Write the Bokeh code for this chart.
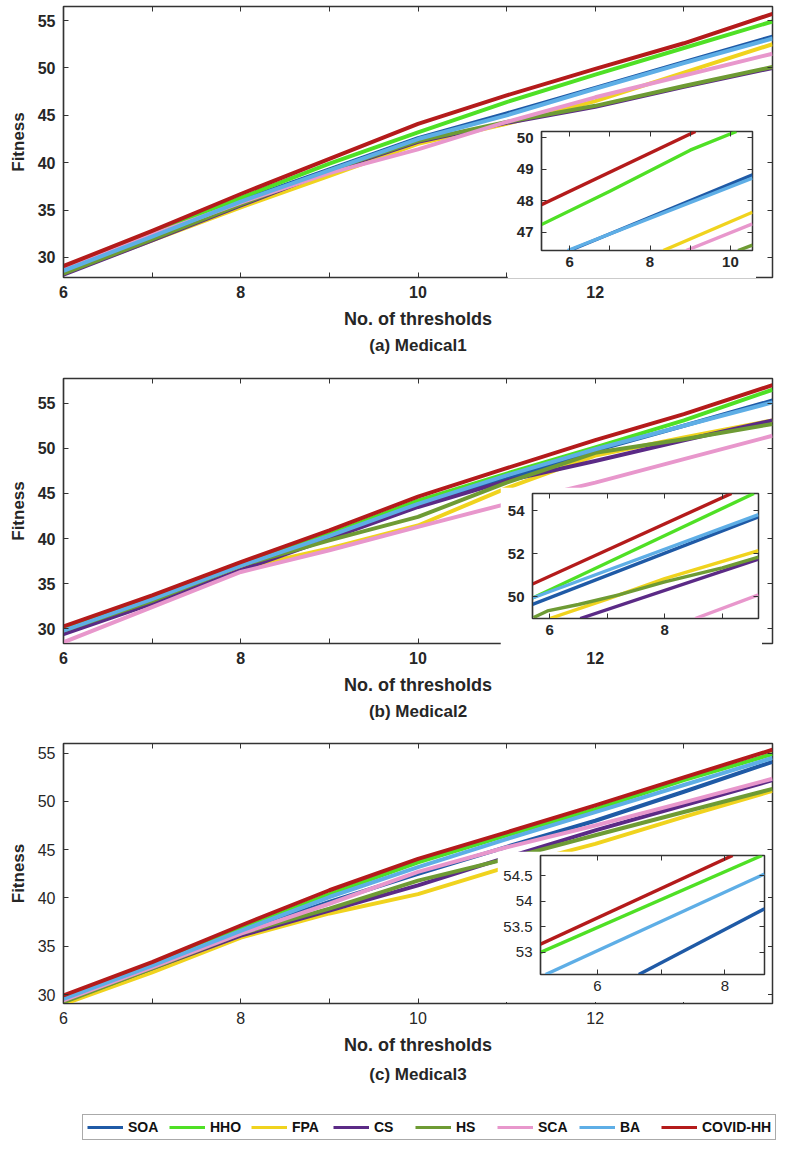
from bokeh.plotting import figure
from bokeh.models import (Range1d, LinearAxis, FixedTicker, Legend, LegendItem, Title, GridBox)
from bokeh.layouts import column
from bokeh.embed import file_html
from bokeh.resources import INLINE

# ---------------- data ----------------
NAMES = ["SOA", "HHO", "FPA", "CS", "HS", "SCA", "BA", "COVID-HH"]
COLORS = ["#1f5aa6", "#4fe025", "#f0d31e", "#5b2a86", "#6e9b34", "#e897cc", "#5eaee6", "#b41b1b"]
X = [6, 7, 8, 9, 10, 11, 12, 13, 14]
X_MAJOR = [6, 8, 10, 12]
X_MINOR = [7, 9, 11, 13]
Y_TICKS = [30, 35, 40, 45, 50, 55]

# (a) Medical1
M1 = {
    "SOA":      [28.5, 32.3, 36.0, 39.3, 42.6, 45.2, 47.9, 50.6, 53.3],
    "HHO":      [28.9, 32.6, 36.3, 39.9, 43.2, 46.4, 49.3, 52.1, 54.9],
    "FPA":      [28.3, 31.8, 35.3, 38.6, 42.0, 44.1, 46.5, 49.5, 52.5],
    "CS":       [28.2, 31.8, 35.5, 39.1, 42.2, 44.2, 45.9, 48.0, 50.0],
    "HS":       [28.3, 31.9, 35.6, 39.2, 42.3, 44.3, 46.0, 48.1, 50.1],
    "SCA":      [28.7, 32.4, 35.8, 38.9, 41.4, 44.3, 46.9, 49.2, 51.5],
    "BA":       [28.6, 32.2, 35.9, 39.2, 42.5, 45.0, 47.8, 50.5, 53.1],
    "COVID-HH": [29.1, 32.8, 36.7, 40.4, 44.1, 47.1, 49.9, 52.6, 55.7],
}
# (b) Medical2
M2 = {
    "SOA":      [29.5, 33.1, 36.8, 40.2, 43.7, 46.6, 49.75, 52.5, 55.3],
    "HHO":      [30.0, 33.5, 37.1, 40.5, 44.2, 47.2, 50.1, 53.1, 56.5],
    "FPA":      [29.8, 33.1, 36.7, 38.9, 41.45, 45.6, 49.2, 51.2, 53.1],
    "CS":       [29.4, 32.8, 36.5, 40.0, 43.5, 46.4, 48.6, 50.9, 53.1],
    "HS":       [29.8, 33.1, 37.0, 39.8, 42.4, 46.2, 49.5, 51.0, 52.7],
    "SCA":      [28.5, 32.4, 36.3, 38.7, 41.3, 43.85, 46.2, 48.8, 51.4],
    "BA":       [29.8, 33.3, 37.0, 40.3, 43.85, 47.0, 49.9, 52.5, 55.1],
    "COVID-HH": [30.26, 33.7, 37.4, 40.9, 44.65, 47.8, 50.9, 53.8, 57.0],
}
# (c) Medical3
M3 = {
    "SOA":      [29.45, 32.8, 36.5, 39.6, 42.5, 45.3, 48.0, 51.0, 54.1],
    "HHO":      [29.7, 33.2, 36.8, 40.4, 43.7, 46.5, 49.2, 52.2, 54.9],
    "FPA":      [29.0, 32.3, 35.9, 38.4, 40.4, 43.2, 45.6, 48.4, 51.1],
    "CS":       [29.3, 32.7, 36.1, 38.7, 41.3, 44.2, 47.0, 49.6, 52.2],
    "HS":       [29.2, 32.7, 36.3, 38.9, 41.8, 44.05, 46.5, 48.9, 51.3],
    "SCA":      [29.4, 32.8, 36.3, 39.4, 42.7, 45.25, 47.5, 49.9, 52.35],
    "BA":       [29.55, 33.0, 36.6, 40.1, 43.2, 46.1, 48.9, 51.7, 54.5],
    "COVID-HH": [29.9, 33.35, 37.15, 40.8, 44.05, 46.8, 49.6, 52.5, 55.35],
}

# insets (zoomed views)
I1_X = {"SOA": [6.0, 10.55], "HHO": [5.3, 7.0, 9.0, 10.15], "FPA": [8.33, 10.55],
        "HS": [10.19, 10.55], "SCA": [8.9, 10.55], "BA": [5.95, 10.55], "COVID-HH": [5.3, 9.13]}
I1_Y = {"SOA": [46.43, 48.82], "HHO": [47.25, 48.3, 49.6, 50.19], "FPA": [46.43, 47.64],
        "HS": [46.43, 46.6], "SCA": [46.43, 47.27], "BA": [46.43, 48.72], "COVID-HH": [47.88, 50.19]}
I1_XTICKS, I1_XMINOR, I1_YTICKS = [6, 8, 10], [7, 9], [47, 48, 49, 50]

I2_X = {"SOA": [5.7, 9.63], "HHO": [5.7, 9.55], "FPA": [6.0, 7.0, 8.0, 9.63],
        "CS": [6.53, 9.63], "HS": [5.72, 5.96, 6.5, 7.2, 8.0, 9.0, 9.63],
        "SCA": [8.53, 9.63], "BA": [5.7, 9.63], "COVID-HH": [5.7, 9.16]}
I2_Y = {"SOA": [49.65, 53.72], "HHO": [49.95, 54.8], "FPA": [49.0, 49.9, 50.85, 52.15],
        "CS": [49.0, 51.75], "HS": [49.05, 49.35, 49.65, 50.1, 50.7, 51.35, 51.85],
        "SCA": [49.0, 50.1], "BA": [49.95, 53.82], "COVID-HH": [50.6, 54.8]}
I2_XTICKS, I2_XMINOR, I2_YTICKS = [6, 8], [7, 9], [50, 52, 54]

I3_X = {"SOA": [6.65, 8.62], "HHO": [5.11, 8.58], "BA": [5.19, 8.62], "COVID-HH": [5.11, 8.12]}
I3_Y = {"SOA": [52.57, 53.85], "HHO": [53.0, 54.89], "BA": [52.57, 54.53], "COVID-HH": [53.16, 54.89]}
I3_XTICKS, I3_XMINOR, I3_YTICKS = [6, 8], [7], [53, 53.5, 54, 54.5]

# ---------------- styling ----------------
FONT = "Liberation Sans"
AX = "#333333"
TXT = "#262626"
MAIN_W = 780


def style_axis(ax, size, bold, standoff):
    ax.axis_line_color = AX
    ax.axis_line_width = 1.2
    ax.major_tick_line_color = AX
    ax.minor_tick_line_color = AX
    ax.major_tick_in = 5
    ax.major_tick_out = 0
    ax.minor_tick_in = 5
    ax.minor_tick_out = 0
    ax.major_label_text_font = FONT
    ax.major_label_text_font_size = f"{size}px"
    ax.major_label_text_font_style = "bold" if bold else "normal"
    ax.major_label_text_color = TXT
    ax.major_label_standoff = standoff


def blank_axis(ticks, minor=None):
    ax = LinearAxis(ticker=FixedTicker(ticks=ticks, minor_ticks=minor or []))
    ax.axis_line_color = None
    ax.major_tick_line_color = AX
    ax.minor_tick_line_color = AX
    ax.major_tick_in = 5
    ax.major_tick_out = 0
    ax.minor_tick_in = 5
    ax.minor_tick_out = 0
    ax.major_label_text_font_size = "0px"
    ax.major_label_standoff = 0
    ax.major_label_overrides = {t: "" for t in ticks}
    return ax


def main_panel(data, ylim, height, top, frame_h, bold, title, title_standoff):
    bottom = height - top - frame_h
    p = figure(width=MAIN_W, height=height, x_range=Range1d(6, 14), y_range=Range1d(*ylim),
               output_backend="svg", toolbar_location=None,
               min_border_left=63, min_border_right=MAIN_W - 772, min_border_top=top,
               min_border_bottom=bottom)
    p.grid.grid_line_color = None
    p.outline_line_color = AX
    p.outline_line_width = 1.5
    p.background_fill_color = "white"
    p.border_fill_color = "white"
    xax = p.xaxis[0]
    yax = p.yaxis[0]
    xax.ticker = FixedTicker(ticks=X_MAJOR, minor_ticks=X_MINOR)
    yax.ticker = FixedTicker(ticks=Y_TICKS)
    style_axis(xax, 16, bold, 8)
    style_axis(yax, 16, bold, 8)
    xax.axis_label = "No. of thresholds"
    xax.axis_label_text_font = FONT
    xax.axis_label_text_font_size = "18px"
    xax.axis_label_text_font_style = "bold"
    xax.axis_label_text_color = TXT
    xax.axis_label_standoff = 8
    yax.axis_label = "Fitness"
    yax.axis_label_text_font = FONT
    yax.axis_label_text_font_size = "17px"
    yax.axis_label_text_font_style = "bold"
    yax.axis_label_text_color = TXT
    yax.axis_label_standoff = 7
    p.add_layout(blank_axis(Y_TICKS), "right")
    p.add_layout(blank_axis(X_MAJOR, X_MINOR), "above")
    rends = []
    for name, col in zip(NAMES, COLORS):
        rends.append(p.line(X, data[name], line_color=col, line_width=4, line_join="round"))
    p.add_layout(Title(text=title, align="center", text_font=FONT, text_font_size="17px",
                       text_font_style="bold", text_color=TXT, standoff=title_standoff), "below")
    return p, rends


def inset_panel(xs, ys, xr, yr, xt, xm, yt, frame_w, frame_h, bl, bt, bold):
    q = figure(width=bl + frame_w + 4, height=bt + frame_h + 28,
               x_range=Range1d(*xr), y_range=Range1d(*yr),
               output_backend="svg", toolbar_location=None,
               min_border_left=bl, min_border_right=4, min_border_top=bt, min_border_bottom=28)
    q.grid.grid_line_color = None
    q.outline_line_color = AX
    q.outline_line_width = 1.5
    q.background_fill_color = "white"
    q.border_fill_color = "white"
    xax = q.xaxis[0]
    yax = q.yaxis[0]
    xax.ticker = FixedTicker(ticks=xt, minor_ticks=xm)
    yax.ticker = FixedTicker(ticks=yt)
    style_axis(xax, 15, bold, 6)
    style_axis(yax, 15, bold, 8)
    q.add_layout(blank_axis(yt), "right")
    q.add_layout(blank_axis(xt, xm), "above")
    for name, col in zip(NAMES, COLORS):
        if name in xs:
            q.line(xs[name], ys[name], line_color=col, line_width=3.4, line_join="round")
    return q


def overlay(main, inset, row0, col0):
    mh, ih, iw = main.height, inset.height, inset.width
    rows = [f"{row0}px", f"{ih}px", f"{mh - row0 - ih}px"]
    cols = [f"{col0}px", f"{iw}px", f"{MAIN_W - col0 - iw}px"]
    return GridBox(children=[(main, 0, 0, 3, 3), (inset, 1, 1, 1, 1)],
                   rows=rows, cols=cols, spacing=0)


# panel 1 (page y 0..376)
p1, _ = main_panel(M1, (27.89, 56.48), 376, 6, 271, True, "(a) Medical1", 5)
in1 = inset_panel(I1_X, I1_Y, (5.3, 10.55), (46.43, 50.19), I1_XTICKS, I1_XMINOR, I1_YTICKS,
                  211, 119, 34, 6, True)
g1 = overlay(p1, in1, 125, 507)

# panel 2 (page y 376..741)
p2, _ = main_panel(M2, (28.37, 57.74), 365, 2, 265, True, "(b) Medical2", 5)
in2 = inset_panel(I2_X, I2_Y, (5.7, 9.63), (49.0, 54.8), I2_XTICKS, I2_XMINOR, I2_YTICKS,
                  226, 125, 32, 6, True)
g2 = overlay(p2, in2, 111, 500)

# panel 3 (page y 741..1098)
p3, r3 = main_panel(M3, (29.07, 56.0), 357, 2, 260, False, "(c) Medical3", 10)
in3 = inset_panel(I3_X, I3_Y, (5.11, 8.62), (52.57, 54.89), I3_XTICKS, I3_XMINOR, I3_YTICKS,
                  224, 119, 43, 4, False)
g3 = overlay(p3, in3, 110, 497)

# legend strip (page y 1098..1148); its series lie outside the strip's visible ranges
pl = figure(width=MAIN_W, height=50, output_backend="svg", toolbar_location=None,
            min_border=0, x_axis_location=None, y_axis_location=None,
            x_range=Range1d(0, 1), y_range=Range1d(0, 1))
pl.grid.grid_line_color = None
pl.outline_line_color = None
pl.background_fill_color = "white"
pl.border_fill_color = "white"
leg_r = [pl.line(X, M3[n], line_color=c, line_width=3) for n, c in zip(NAMES, COLORS)]
leg = Legend(items=[LegendItem(label=n, renderers=[r]) for n, r in zip(NAMES, leg_r)],
             orientation="horizontal", location=(82, 8),
             label_text_font=FONT, label_text_font_size="14px", label_text_font_style="bold",
             label_text_color="#111111", glyph_width=36, glyph_height=14, label_standoff=5,
             spacing=9, padding=4, margin=0, label_width=32, label_height=14,
             border_line_color="#555555", border_line_width=1.5, background_fill_color="white")
pl.add_layout(leg)

layout = column(g1, g2, g3, pl, spacing=0)
open("out.html", "w").write(file_html(layout, INLINE))
